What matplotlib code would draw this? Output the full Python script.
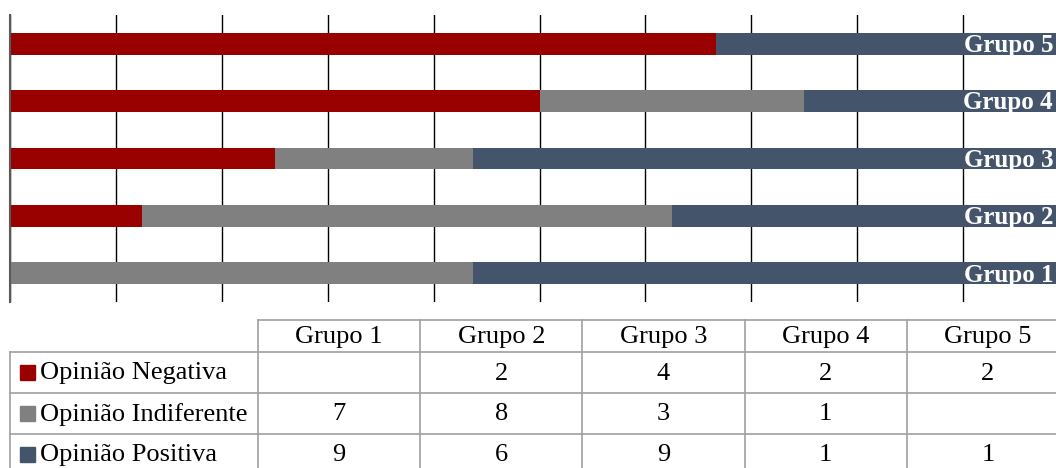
import numpy as np
import matplotlib
matplotlib.use("Agg")
import matplotlib.pyplot as plt
from matplotlib.transforms import blended_transform_factory

# Data
grupos = ["Grupo 1", "Grupo 2", "Grupo 3", "Grupo 4", "Grupo 5"]
series = ["Opinião Negativa", "Opinião Indiferente", "Opinião Positiva"]
negativa = [np.nan, 2, 4, 2, 2]
indiferente = [7, 8, 3, 1, np.nan]
positiva = [9, 6, 9, 1, 1]
colors = ["#990000", "#808080", "#44546A"]

plt.rcParams["font.family"] = ["Liberation Serif", "DejaVu Serif"]

W, H = 1056, 468
fig = plt.figure(figsize=(W / 100, H / 100), dpi=100)

# ========================================================
# 100% stacked bars
# ========================================================
ax_l, ax_r, ax_t, ax_b = 10, 1069, 15, 302
ax = fig.add_axes([ax_l / W, 1 - ax_b / H, (ax_r - ax_l) / W, (ax_b - ax_t) / H])

vals = np.nan_to_num(np.array([negativa, indiferente, positiva], dtype=float))
frac = vals / vals.sum(axis=0)
ypos = np.arange(len(grupos))
left = np.zeros(len(grupos))
for i in range(len(series)):
    ax.barh(ypos, frac[i], left=left, height=0.38, color=colors[i], zorder=3)
    left += frac[i]

ax.set_xlim(0, 1)
ax.set_ylim(-0.5, len(grupos) - 0.5)
ax.set_xticks(np.arange(0, 1.01, 0.1))
ax.grid(axis="x", color="black", linewidth=1, zorder=0)
ax.tick_params(left=False, bottom=False, labelleft=False, labelbottom=False)
for s in ["top", "right", "bottom"]:
    ax.spines[s].set_visible(False)
ax.spines["left"].set_color("#595959")
ax.spines["left"].set_linewidth(1.5)
ax.spines["left"].set_zorder(5)

trans = blended_transform_factory(fig.transFigure, ax.transData)
for y, g in zip(ypos, grupos):
    ax.text(1053 / W, y - 0.03, g, transform=trans, ha="right", va="center",
            color="white", fontweight="bold", fontsize=18, zorder=6)

# ========================================================
# Data table
# ========================================================
tab = fig.add_axes([0, 0, 1, 1])
tab.set_xlim(0, W)
tab.set_ylim(H, 0)
tab.axis("off")
tab.patch.set_alpha(0)

lc, lw = "#a0a0a0", 1.2
fs = 19
x_lab, x0 = 10, 258
cw = (ax_r - x0) / len(grupos)
cols = [x0 + k * cw for k in range(len(grupos) + 1)]
rows = [320, 352, 393, 434, 475]

tab.plot([x0, ax_r], [rows[0], rows[0]], color=lc, lw=lw)
for r in rows[1:]:
    tab.plot([x_lab, ax_r], [r, r], color=lc, lw=lw)
tab.plot([x_lab, x_lab], [rows[1], rows[-1]], color=lc, lw=lw)
for c in cols:
    tab.plot([c, c], [rows[0], rows[-1]], color=lc, lw=lw)

for k, g in enumerate(grupos):
    tab.text((cols[k] + cols[k + 1]) / 2, (rows[0] + rows[1]) / 2 + 1, g,
             ha="center", va="center", fontsize=fs)

for i, (name, data) in enumerate(zip(series, [negativa, indiferente, positiva])):
    yc = (rows[i + 1] + rows[i + 2]) / 2
    if i == 2:
        yc = rows[3] + 20
    tab.add_patch(plt.Rectangle((20, yc - 7.5), 15, 15, color=colors[i]))
    tab.text(40, yc + 1, name, ha="left", va="center", fontsize=fs)
    for k, v in enumerate(data):
        if not np.isnan(v):
            tab.text((cols[k] + cols[k + 1]) / 2, yc + 1, f"{v:g}",
                     ha="center", va="center", fontsize=fs)

fig.savefig("out.png", dpi=100)
